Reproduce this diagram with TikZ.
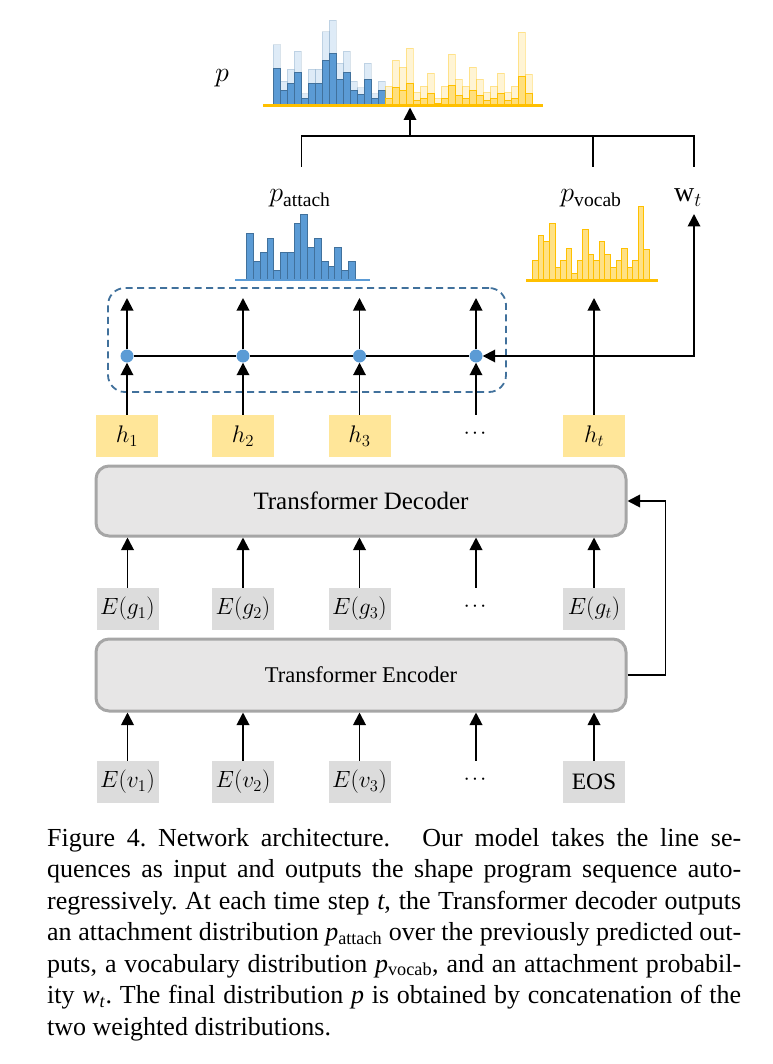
\RequirePackage{fix-cm}
\documentclass[tikz,border=0pt]{standalone}
\usepackage{fontspec}
\setmainfont{Liberation Serif}
\usetikzlibrary{arrows.meta}
\definecolor{bblue}{HTML}{5B9BD5}
\definecolor{bblued}{HTML}{41719C}
\definecolor{yel}{HTML}{FFC000}
\definecolor{yelfill}{HTML}{FFD966}
\definecolor{hyel}{HTML}{FFE699}
\definecolor{egray}{HTML}{DCDCDC}
\definecolor{tfill}{HTML}{E7E6E6}
\definecolor{tborder}{HTML}{A6A6A6}
\definecolor{dashc}{HTML}{41719C}
\newcommand{\mydots}{·\hspace{2pt}·\hspace{2pt}·}
\begin{document}
\begin{tikzpicture}[x=1pt,y=-1pt,
  arr/.style={-{Triangle[width=12.5pt,length=12.5pt]},line width=1.9pt},
  conn/.style={line width=1.9pt},
  hbox/.style={fill=hyel,minimum width=62pt,minimum height=42pt,inner sep=0pt,font=\fontsize{24}{28}\selectfont},
  ebox/.style={fill=egray,minimum width=62pt,minimum height=42pt,inner sep=0pt,font=\fontsize{23.5}{28}\selectfont},
  blank/.style={minimum width=62pt,minimum height=42pt,inner sep=0pt,font=\fontsize{19}{22}\selectfont},
  tbox/.style={draw=tborder,line width=3pt,fill=tfill,rounded corners=13pt,minimum width=530pt,inner sep=0pt},
  bdot/.style={circle,fill=bblue,minimum size=13pt,inner sep=0pt},
  lbl/.style={font=\fontsize{28}{30}\selectfont,inner sep=0pt,anchor=base},
  capline/.style={anchor=base west,inner sep=0pt,font=\fontsize{26}{31.5}\selectfont},
  pabar/.style={fill=bblue,draw=bblued,line width=0.8pt},
  pvbar/.style={fill=yelfill,fill opacity=0.8,draw=yel,draw opacity=1,line width=0.8pt},
  lightblue/.style={fill=bblue,fill opacity=0.2,draw=bblued,draw opacity=0.2,line width=0.8pt},
  lightyel/.style={fill=yelfill,fill opacity=0.28,draw=yel,draw opacity=0.35,line width=0.8pt},
  dashbox/.style={draw=dashc,line width=1.8pt,dash pattern=on 7pt off 4.5pt,rounded corners=17pt,minimum width=398pt,minimum height=104pt,inner sep=0pt}
]
\useasboundingbox (0,0) rectangle (772,1064);

% ---------- top combined histogram ----------
\node[lbl] (plab) at (222,82) {$p$};
\foreach \h [count=\i from 0] in {46.7,19,28,41.7,9.3,28,28,56.7,65.7,32.7,41.7,19,14,32.7,9.3,19}
  \draw[lightblue] (273+\i*7,106) rectangle ++(7,-1.31*\h);
\foreach \h [count=\i from 0] in {46.7,19,28,41.7,9.3,28,28,56.7,65.7,32.7,41.7,19,14,32.7,9.3,19}
  \draw[pabar] (273+\i*7,106) rectangle ++(7,-0.8*\h);
\foreach \h [count=\i from 0] in {20,45.5,39,57.5,13.5,20,32.5,7.5,20,51.5,26.5,20,39,26.5,13.5,20,32.5,13.5,20,74,31.5}
  \draw[lightyel] (385+\i*7,106) rectangle ++(7,-\h);
\foreach \h [count=\i from 0] in {20,45.5,39,57.5,13.5,20,32.5,7.5,20,51.5,26.5,20,39,26.5,13.5,20,32.5,13.5,20,74,31.5}
  \draw[pvbar] (385+\i*7,106) rectangle ++(7,-0.4*\h);
\coordinate (tb1) at (263,106);
\coordinate (tb2) at (543,106);
\draw[yel,line width=3pt] (tb1) -- (tb2);

% ---------- p_attach histogram ----------
\foreach \h [count=\i from 0] in {46.7,19,28,41.7,9.3,28,28,56.7,65.7,32.7,41.7,19,14,32.7,9.3,19}
  \draw[pabar] (246.7+\i*6.77,280) rectangle ++(6.77,-\h);
\coordinate (ab1) at (235,280);
\coordinate (ab2) at (370,280);
\draw[bblue,line width=2.5pt] (ab1) -- (ab2);

% ---------- p_vocab histogram ----------
\foreach \h [count=\i from 0] in {20,45.5,39,57.5,13.5,20,32.5,7.5,20,51.5,26.5,20,39,26.5,13.5,20,32.5,13.5,20,74,31.5}
  \draw[pvbar] (532.7+\i*5.55,280.5) rectangle ++(5.55,-\h);
\coordinate (vb1) at (526,280.5);
\coordinate (vb2) at (658,280.5);
\draw[yel,line width=3pt] (vb1) -- (vb2);

% ---------- labels ----------
\node[lbl] (patt) at (300,202) {$p_{\mathrm{attach}}$};
\node[lbl] (pvoc) at (591,202) {$p_{\mathrm{vocab}}$};
\node[lbl] (wt) at (688,202) {$\mathrm{w}_t$};

% ---------- top connectors ----------
\coordinate (pa) at (301.5,167);
\coordinate (pv) at (593,167);
\coordinate (pw) at (694,167);
\coordinate (m) at (410,136);
\coordinate (mtop) at (410,107.5);
\draw[conn] (pa) -- (pa |- m) -- (pw |- m) -- (pw);
\draw[conn] (pv) -- (pv |- m);
\draw[arr] (m) -- (mtop);

% ---------- dashed group ----------
\node[dashbox] (grp) at (307,340) {};

% ---------- h row ----------
\node[hbox] (h1) at (127,436) {$h_1$};
\node[hbox] (h2) at (243,436) {$h_2$};
\node[hbox] (h3) at (359.5,436) {$h_3$};
\node[blank] (hd) at (475,436) {\mydots};
\node[hbox] (ht) at (594,436) {$h_t$};

\node[bdot] (d1) at (127,356) {};
\node[bdot] (d2) at (243,356) {};
\node[bdot] (d3) at (359.5,356) {};
\node[bdot] (d4) at (476,356) {};

\coordinate (t1) at (127,298);
\coordinate (t2) at (243,298);
\coordinate (t3) at (359.5,298);
\coordinate (t4) at (476,298);
\coordinate (tv) at (594,298);

\draw[conn] (d1) -- (d2) -- (d3) -- (d4);
\foreach \k in {1,2,3,4} {
  \draw[arr] (d\k) -- (t\k);
}
\draw[arr] (h1) -- (d1);
\draw[arr] (h2) -- (d2);
\draw[arr] (h3) -- (d3);
\draw[arr] (d4 |- hd.north) -- (d4);
\draw[arr] (ht) -- (tv);

\coordinate (j) at (594,356);
\coordinate (c) at (694,356);
\draw[arr] (c) -- (d4);
\draw[arr] (j) -- (c) -- (c |- 0,214);

% ---------- decoder / encoder ----------
\node[tbox,minimum height=70pt,font=\fontsize{25}{28}\selectfont] (dec) at (361,501) {Transformer Decoder};
\node[tbox,minimum height=72pt,font=\fontsize{22.5}{26}\selectfont] (enc) at (361,675) {Transformer Encoder};

\node[ebox] (g1) at (127.5,609) {$E(g_1)$};
\node[ebox] (g2) at (243,609) {$E(g_2)$};
\node[ebox] (g3) at (359.5,609) {$E(g_3)$};
\node[blank] (gd) at (475,609) {\mydots};
\node[ebox] (gt) at (594,609) {$E(g_t)$};

\node[ebox] (v1) at (127.5,782) {$E(v_1)$};
\node[ebox] (v2) at (243,782) {$E(v_2)$};
\node[ebox] (v3) at (359.5,782) {$E(v_3)$};
\node[blank] (vd) at (475,782) {\mydots};
\node[ebox] (eos) at (594,782) {EOS};

\foreach \n in {g1,g2,g3,gt} {
  \draw[arr] (\n.north) -- (\n.north |- dec.south);
}
\foreach \n in {v1,v2,v3,eos} {
  \draw[arr] (\n.north) -- (\n.north |- enc.south);
}
\draw[arr] (gd.north -| d4) -- (d4 |- dec.south);
\draw[arr] (vd.north -| d4) -- (d4 |- enc.south);
\draw[arr] (enc.east) -- ++(38,0) |- (dec.east);

% ---------- caption ----------
\node[capline] (c1) at (47,846) {\makebox[694pt][s]{Figure 4.\ Network architecture.\hspace{3pt plus 3pt} Our model takes the line se-}};
\node[capline] (c2) at (47,877.5) {\makebox[694pt][s]{quences as input and outputs the shape program sequence auto-}};
\node[capline] (c3) at (47,909) {\makebox[694pt][s]{regressively.\ At each time step \textit{t}, the Transformer decoder outputs}};
\node[capline] (c4) at (47,940.5) {\makebox[694pt][s]{an attachment distribution \textit{p}\textsubscript{attach} over the previously predicted out-}};
\node[capline] (c5) at (47,972) {\makebox[694pt][s]{puts, a vocabulary distribution \textit{p}\textsubscript{vocab}, and an attachment probabil-}};
\node[capline] (c6) at (47,1003.5) {\makebox[694pt][s]{ity \textit{w}\textsubscript{\textit{t}}.\ The final distribution \textit{p} is obtained by concatenation of the}};
\node[capline] (c7) at (47,1035) {two weighted distributions.};
\end{tikzpicture}
\end{document}
